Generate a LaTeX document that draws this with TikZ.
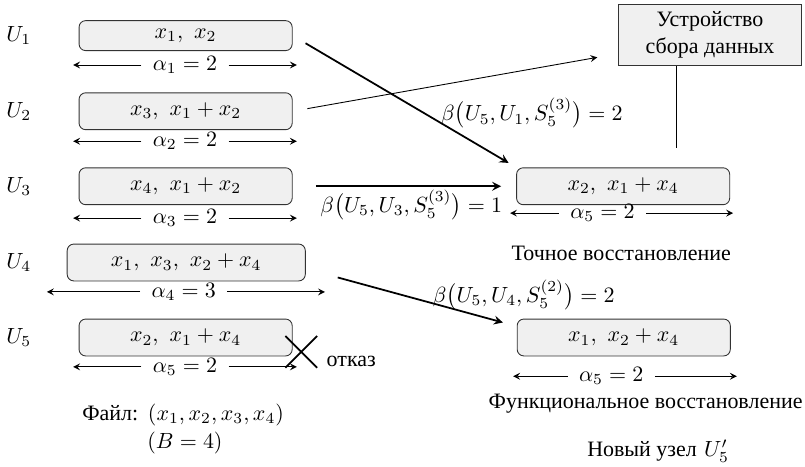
\documentclass[tikz,border=0pt]{standalone}
\usepackage{fontspec}
\newfontfamily\cyr{Liberation Serif}
\usepackage{tikz}
\usetikzlibrary{shapes, arrows, positioning, calc}

\begin{document}
\begin{tikzpicture}[auto,
        blk/.style={rectangle, draw=black!80, fill=gray!12, rounded corners=3pt, minimum width=3.41cm, minimum height=0.59cm},
        devbox/.style={rectangle, draw=black!80, fill=gray!12, align=center, font=\cyr, minimum width=2.94cm, minimum height=0.99cm},
        span/.style={inner sep=5pt},
        betalbl/.style={inner sep=1pt},
        line/.style={draw, -stealth, thick},
        thinline/.style={draw, -stealth}]

        \useasboundingbox (0,0) rectangle (12.88,-7.456);

        % Storage nodes
        \node (u1) at (0.30,-0.57) {$U_1$};
        \node [blk, minimum height=0.48cm] (b1) at (2.97,-0.57) {$x_1,\ x_2$};
        \node (u2) at (0.30,-1.78) {$U_2$};
        \node [blk] (b2) at (2.97,-1.78) {$x_3,\ x_1 + x_2$};
        \node (u3) at (0.30,-2.98) {$U_3$};
        \node [blk] (b3) at (2.97,-2.98) {$x_4,\ x_1 + x_2$};
        \node (u4) at (0.30,-4.20) {$U_4$};
        \node [blk, minimum width=3.81cm] (b4) at (2.98,-4.20) {$x_1,\ x_3,\ x_2 + x_4$};
        \node (u5) at (0.30,-5.40) {$U_5$};
        \node [blk] (b5) at (2.97,-5.40) {$x_2,\ x_1 + x_4$};

        % Storage sizes
        \node [span] (a1) at (2.96,-1.04) {$\alpha_1 = 2$};
        \coordinate (a1l) at (1.17,-1.04);
        \coordinate (a1r) at (4.75,-1.04);
        \node [span] (a2) at (2.96,-2.26) {$\alpha_2 = 2$};
        \coordinate (a2l) at (1.17,-2.26);
        \coordinate (a2r) at (4.75,-2.26);
        \node [span] (a3) at (2.96,-3.49) {$\alpha_3 = 2$};
        \coordinate (a3l) at (1.17,-3.49);
        \coordinate (a3r) at (4.75,-3.49);
        \node [span] (a4) at (2.94,-4.67) {$\alpha_4 = 3$};
        \coordinate (a4l) at (0.75,-4.67);
        \coordinate (a4r) at (5.20,-4.67);
        \node [span] (a5) at (2.96,-5.87) {$\alpha_5 = 2$};
        \coordinate (a5l) at (1.17,-5.87);
        \coordinate (a5r) at (4.75,-5.87);

        % Failure
        \node [cross out, draw, thick, minimum size=0.48cm, inner sep=0pt] (fail) at (4.82,-5.63) {};
        \node (failtxt) at (5.62,-5.79) {\cyr отказ};

        % File
        \node (file) at (2.93,-6.64) {{\cyr Файл:} $(x_1, x_2, x_3, x_4)$};
        \node (bsize) at (2.96,-7.09) {$(B = 4)$};

        % Data collector and new node
        \node [devbox] (dev) at (11.36,-0.56) {Устройство\\сбора данных};
        \coordinate (devend) at (10.82,-2.37);
        \node [blk] (exact) at (9.97,-2.98) {$x_2,\ x_1 + x_4$};
        \node [span] (ae) at (9.64,-3.41) {$\alpha_5 = 2$};
        \coordinate (ael) at (8.16,-3.41);
        \coordinate (aer) at (11.73,-3.41);
        \node [betalbl] (exacttxt) at (9.94,-4.06) {\cyr Точное восстановление};
        \node [blk] (func) at (9.98,-5.40) {$x_1,\ x_2 + x_4$};
        \node [span] (af) at (9.78,-6.02) {$\alpha_5 = 2$};
        \coordinate (afl) at (8.21,-6.02);
        \coordinate (afr) at (11.79,-6.02);
        \node (functxt) at (10.33,-6.46) {\cyr Функциональное восстановление};
        \node (newtxt) at (10.53,-7.22) {{\cyr Новый узел} $U_5'$};

        % Repair bandwidth labels
        \node [betalbl] (beta1) at (8.51,-1.81) {$\beta\big(U_5, U_1, S_5^{(3)}\big) = 2$};
        \node [betalbl] (beta3) at (6.58,-3.28) {$\beta\big(U_5, U_3, S_5^{(3)}\big) = 1$};
        \node [betalbl] (beta4) at (8.38,-4.72) {$\beta\big(U_5, U_4, S_5^{(2)}\big) = 2$};

        % Size arrows
        \draw [-stealth] (a1) -- (a1l);
        \draw [-stealth] (a1) -- (a1r);
        \draw [-stealth] (a2) -- (a2l);
        \draw [-stealth] (a2) -- (a2r);
        \draw [-stealth] (a3) -- (a3l);
        \draw [-stealth] (a3) -- (a3r);
        \draw [-stealth] (a4) -- (a4l);
        \draw [-stealth] (a4) -- (a4r);
        \draw [-stealth] (a5) -- (a5l);
        \draw [-stealth] (a5) -- (a5r);
        \draw [-stealth] (ae) -- (ael);
        \draw [-stealth] (ae) -- (aer);
        \draw [-stealth] (af) -- (afl);
        \draw [-stealth] (af) -- (afr);

        % Paths
        \path [line, shorten <=0.24cm, shorten >=0.14cm] (b1.east) -- (exact.north west);
        \path [line, shorten <=0.37cm, shorten >=0.24cm] (b3.east) -- (exact.west);
        \path [line, shorten <=0.53cm, shorten >=0.23cm] ([yshift=-0.1cm]b4.east) -- ([yshift=0.18cm]func.west);
        \path [thinline, shorten <=0.24cm, shorten >=0.33cm] (b2.east) -- ([yshift=-0.3cm]dev.west);
        \draw (dev.south -| devend) -- (devend);

    \end{tikzpicture}
\end{document}
